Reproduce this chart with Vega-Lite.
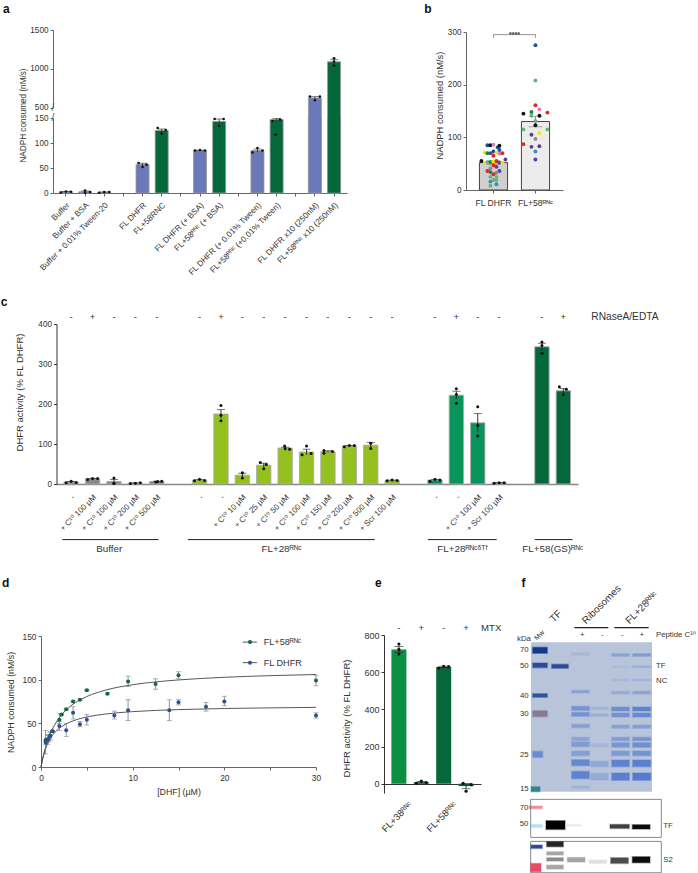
{"$schema":"https://vega.github.io/schema/vega-lite/v6.json","width":698,"height":873,"autosize":"none","padding":0,"background":"white",
"config":{"view":{"stroke":null},"font":"Liberation Sans","axis":{"grid":false,"labelFont":"Liberation Sans, DejaVu Sans","titleFont":"Liberation Sans","labelColor":"#333","titleColor":"#333","labelFontSize":8.2,"titleFontSize":9,"titleFontWeight":"normal","domainColor":"#666","tickColor":"#666","tickSize":3,"labelOverlap":false,"labelBound":false,"labelFlush":false,"labelLimit":220},"text":{"font":"Liberation Sans, DejaVu Sans","color":"#333","fontSize":8}},
"datasets":{
"aBars":[{"name":"Buffer","value":2.5,"lo":1.5,"hi":3.2,"kind":"FL"},{"name":"Buffer + BSA","value":2.4,"lo":1,"hi":4,"kind":"FL"},{"name":"Buffer + 0.01% Tween-20","value":1.5,"lo":1,"hi":2,"kind":"FL"},{"name":"FL DHFR","value":57,"lo":54.5,"hi":59.5,"kind":"FL"},{"name":"FL+58RNC","value":125,"lo":122,"hi":128,"kind":"RNC"},{"name":"FL DHFR (+ BSA)","value":85,"lo":84.6,"hi":85.6,"kind":"FL"},{"name":"FL+58ᴿᴺᶜ (+ BSA)","value":143,"lo":139,"hi":148,"kind":"RNC"},{"name":"FL DHFR (+ 0.01% Tween)","value":85,"lo":82,"hi":88,"kind":"FL"},{"name":"FL+58ᴿᴺᶜ (+0.01% Tween)","value":147,"lo":145,"hi":149,"kind":"RNC"},{"name":"FL DHFR x10 (250nM)","value":626,"lo":610,"hi":642,"kind":"FL"},{"name":"FL+58ᴿᴺᶜ  x10 (250nM)","value":1090,"lo":1065,"hi":1118,"kind":"RNC"}],
"aDots":[{"name":"Buffer","value":1,"j":-1},{"name":"Buffer","value":3,"j":0},{"name":"Buffer","value":2.5,"j":1},{"name":"Buffer + BSA","value":5,"j":0},{"name":"Buffer + BSA","value":0.5,"j":0},{"name":"Buffer + BSA","value":2,"j":1},{"name":"Buffer + 0.01% Tween-20","value":0.5,"j":-1},{"name":"Buffer + 0.01% Tween-20","value":2,"j":0},{"name":"Buffer + 0.01% Tween-20","value":2,"j":1},{"name":"FL DHFR","value":60,"j":-0.8},{"name":"FL DHFR","value":52,"j":0},{"name":"FL DHFR","value":57,"j":0.8},{"name":"FL+58RNC","value":130,"j":-0.8},{"name":"FL+58RNC","value":119,"j":0},{"name":"FL+58RNC","value":126,"j":0.8},{"name":"FL DHFR (+ BSA)","value":85,"j":-1},{"name":"FL DHFR (+ BSA)","value":86,"j":0},{"name":"FL DHFR (+ BSA)","value":85,"j":1},{"name":"FL+58ᴿᴺᶜ (+ BSA)","value":148,"j":-0.9},{"name":"FL+58ᴿᴺᶜ (+ BSA)","value":134,"j":0},{"name":"FL+58ᴿᴺᶜ (+ BSA)","value":148,"j":0.9},{"name":"FL DHFR (+ 0.01% Tween)","value":81,"j":-1},{"name":"FL DHFR (+ 0.01% Tween)","value":90,"j":0},{"name":"FL DHFR (+ 0.01% Tween)","value":85,"j":1},{"name":"FL+58ᴿᴺᶜ (+0.01% Tween)","value":144,"j":-0.8},{"name":"FL+58ᴿᴺᶜ (+0.01% Tween)","value":151,"j":-0.2},{"name":"FL+58ᴿᴺᶜ (+0.01% Tween)","value":147,"j":0.7},{"name":"FL DHFR x10 (250nM)","value":643,"j":-1},{"name":"FL DHFR x10 (250nM)","value":596,"j":0},{"name":"FL DHFR x10 (250nM)","value":643,"j":1},{"name":"FL+58ᴿᴺᶜ  x10 (250nM)","value":1135,"j":0},{"name":"FL+58ᴿᴺᶜ  x10 (250nM)","value":1095,"j":0},{"name":"FL+58ᴿᴺᶜ  x10 (250nM)","value":1043,"j":0}],
"bBars":[{"g":"FL DHFR","value":52,"lo":48.5,"hi":55.5},{"g":"FL+58ᴿᴺᶜ","value":130,"lo":120,"hi":140}],
"bDots":[{"g":"FL+58ᴿᴺᶜ","v":275,"j":0,"batch":"b4"},{"g":"FL+58ᴿᴺᶜ","v":208,"j":0,"batch":"b8"},{"g":"FL+58ᴿᴺᶜ","v":161,"j":0,"batch":"b2"},{"g":"FL+58ᴿᴺᶜ","v":148,"j":-0.33,"batch":"b3"},{"g":"FL+58ᴿᴺᶜ","v":153,"j":0.33,"batch":"b7"},{"g":"FL+58ᴿᴺᶜ","v":145,"j":-1,"batch":"b1"},{"g":"FL+58ᴿᴺᶜ","v":147,"j":1,"batch":"b2"},{"g":"FL+58ᴿᴺᶜ","v":141,"j":-0.33,"batch":"b8"},{"g":"FL+58ᴿᴺᶜ","v":141,"j":0.33,"batch":"b1"},{"g":"FL+58ᴿᴺᶜ","v":131,"j":0,"batch":"b8"},{"g":"FL+58ᴿᴺᶜ","v":123,"j":0,"batch":"b1"},{"g":"FL+58ᴿᴺᶜ","v":115,"j":-1,"batch":"b8"},{"g":"FL+58ᴿᴺᶜ","v":115,"j":1,"batch":"b8"},{"g":"FL+58ᴿᴺᶜ","v":108,"j":0.33,"batch":"b6"},{"g":"FL+58ᴿᴺᶜ","v":105,"j":-0.33,"batch":"b5"},{"g":"FL+58ᴿᴺᶜ","v":97,"j":0,"batch":"b9"},{"g":"FL+58ᴿᴺᶜ","v":87,"j":-1,"batch":"b2"},{"g":"FL+58ᴿᴺᶜ","v":82,"j":-0.33,"batch":"b5"},{"g":"FL+58ᴿᴺᶜ","v":83,"j":0.33,"batch":"b5"},{"g":"FL+58ᴿᴺᶜ","v":73,"j":0,"batch":"b10"},{"g":"FL+58ᴿᴺᶜ","v":58,"j":0,"batch":"b5"},
{"g":"FL DHFR","v":85,"j":-0.5,"batch":"b4"},{"g":"FL DHFR","v":85,"j":-0.25,"batch":"b1"},{"g":"FL DHFR","v":86,"j":0,"batch":"b7"},{"g":"FL DHFR","v":81,"j":0.35,"batch":"b4"},{"g":"FL DHFR","v":84,"j":0.5,"batch":"b1"},{"g":"FL DHFR","v":76,"j":0.5,"batch":"b4"},{"g":"FL DHFR","v":73,"j":0,"batch":"b4"},{"g":"FL DHFR","v":71,"j":-0.72,"batch":"b6"},{"g":"FL DHFR","v":70,"j":-0.5,"batch":"b3"},{"g":"FL DHFR","v":70,"j":-0.25,"batch":"b5"},{"g":"FL DHFR","v":71,"j":0.25,"batch":"b6"},{"g":"FL DHFR","v":69,"j":0.5,"batch":"b7"},{"g":"FL DHFR","v":70,"j":0.75,"batch":"b2"},{"g":"FL DHFR","v":65,"j":0,"batch":"b2"},{"g":"FL DHFR","v":58,"j":1,"batch":"b5"},{"g":"FL DHFR","v":55,"j":-1,"batch":"b1"},{"g":"FL DHFR","v":52,"j":-0.72,"batch":"b6"},{"g":"FL DHFR","v":53,"j":-0.5,"batch":"b8"},{"g":"FL DHFR","v":53,"j":-0.25,"batch":"b3"},{"g":"FL DHFR","v":54,"j":0,"batch":"b6"},{"g":"FL DHFR","v":55,"j":0.25,"batch":"b2"},{"g":"FL DHFR","v":52,"j":0.5,"batch":"b5"},{"g":"FL DHFR","v":52,"j":0.75,"batch":"b6"},{"g":"FL DHFR","v":47,"j":0,"batch":"b2"},{"g":"FL DHFR","v":44,"j":0.25,"batch":"b5"},{"g":"FL DHFR","v":41,"j":-0.25,"batch":"b9"},{"g":"FL DHFR","v":36,"j":-0.5,"batch":"b2"},{"g":"FL DHFR","v":34,"j":-0.25,"batch":"b3"},{"g":"FL DHFR","v":36,"j":0.5,"batch":"b5"},{"g":"FL DHFR","v":33,"j":0.25,"batch":"b9"},{"g":"FL DHFR","v":30,"j":0,"batch":"b2"},{"g":"FL DHFR","v":25,"j":-0.25,"batch":"b8"},{"g":"FL DHFR","v":25,"j":0.25,"batch":"b8"},{"g":"FL DHFR","v":19,"j":0,"batch":"b8"},{"g":"FL DHFR","v":16,"j":-0.25,"batch":"b10"},{"g":"FL DHFR","v":19,"j":0.25,"batch":"b8"},{"g":"FL DHFR","v":11,"j":0.25,"batch":"b10"},{"g":"FL DHFR","v":8,"j":-0.25,"batch":"b8"}],
"bBracket":[{"g":"FL DHFR","v":289,"i":1},{"g":"FL DHFR","v":295,"i":2},{"g":"FL+58ᴿᴺᶜ","v":295,"i":3},{"g":"FL+58ᴿᴺᶜ","v":289,"i":4}],
"cBars":[{"s":"s00","value":5,"lo":3,"hi":6.5,"set":"buffer"},{"s":"s01","value":13,"lo":12,"hi":14,"set":"buffer"},{"s":"s02","value":6,"lo":1,"hi":11,"set":"buffer"},{"s":"s03","value":2,"lo":1.2,"hi":2.8,"set":"buffer"},{"s":"s04","value":6,"lo":5.2,"hi":6.8,"set":"buffer"},{"s":"s06","value":10,"lo":8.5,"hi":11,"set":"fl28"},{"s":"s07","value":175,"lo":164,"hi":186,"set":"fl28"},{"s":"s08","value":22,"lo":17,"hi":27,"set":"fl28"},{"s":"s09","value":47,"lo":42,"hi":52,"set":"fl28"},{"s":"s10","value":90,"lo":88,"hi":92,"set":"fl28"},{"s":"s11","value":80,"lo":73,"hi":87,"set":"fl28"},{"s":"s12","value":81,"lo":78.5,"hi":83,"set":"fl28"},{"s":"s13","value":95,"lo":94,"hi":96,"set":"fl28"},{"s":"s14","value":97,"lo":90,"hi":104,"set":"fl28"},{"s":"s15","value":9,"lo":8.3,"hi":9.7,"set":"fl28"},{"s":"s17","value":10,"lo":8,"hi":11.5,"set":"dtf"},{"s":"s18","value":222,"lo":212,"hi":232,"set":"dtfb"},{"s":"s19","value":153,"lo":131,"hi":176,"set":"dtfb"},{"s":"s20","value":3,"lo":2.5,"hi":3.5,"set":"dtf"},{"s":"s22","value":343,"lo":334,"hi":352,"set":"gs"},{"s":"s23","value":233,"lo":227,"hi":239,"set":"gs"}],
"cDots":[{"s":"s00","v":3,"j":-1},{"s":"s00","v":7,"j":0},{"s":"s00","v":4,"j":1},{"s":"s01","v":11,"j":-1},{"s":"s01","v":14,"j":0},{"s":"s01","v":14,"j":1},{"s":"s02","v":15,"j":0},{"s":"s02","v":1,"j":0},{"s":"s02","v":2,"j":0},{"s":"s03","v":1,"j":-1},{"s":"s03","v":2,"j":0},{"s":"s03","v":3,"j":1},{"s":"s04","v":5,"j":-0.2},{"s":"s04","v":6,"j":0.2},{"s":"s04","v":7,"j":1},{"s":"s06","v":8,"j":-1},{"s":"s06","v":12,"j":0},{"s":"s06","v":9,"j":1},{"s":"s07","v":196,"j":0},{"s":"s07","v":172,"j":0},{"s":"s07","v":158,"j":0},{"s":"s08","v":28,"j":0},{"s":"s08","v":15,"j":0},{"s":"s09","v":54,"j":-0.7},{"s":"s09","v":49,"j":0.5},{"s":"s09","v":38,"j":0},{"s":"s10","v":95,"j":-0.1},{"s":"s10","v":88,"j":0},{"s":"s10","v":87,"j":0.9},{"s":"s11","v":95,"j":0},{"s":"s11","v":73,"j":-0.9},{"s":"s11","v":76,"j":0.9},{"s":"s12","v":84,"j":-0.8},{"s":"s12","v":77,"j":-0.8},{"s":"s12","v":81,"j":0.9},{"s":"s13","v":93,"j":-1},{"s":"s13","v":96,"j":0},{"s":"s13","v":96,"j":1},{"s":"s14","v":102,"j":0},{"s":"s14","v":89,"j":0},{"s":"s15","v":8,"j":-1},{"s":"s15","v":10,"j":0},{"s":"s15","v":9,"j":1},{"s":"s17","v":7,"j":-1},{"s":"s17","v":12,"j":0},{"s":"s17","v":10,"j":1},{"s":"s18","v":238,"j":0},{"s":"s18","v":224,"j":0},{"s":"s18","v":202,"j":0},{"s":"s19","v":193,"j":0},{"s":"s19","v":146,"j":0},{"s":"s19","v":120,"j":0},{"s":"s20","v":2,"j":-1},{"s":"s20","v":3,"j":0},{"s":"s20","v":3,"j":1},{"s":"s22","v":355,"j":0},{"s":"s22","v":346,"j":0},{"s":"s22","v":327,"j":0},{"s":"s23","v":243,"j":-0.8},{"s":"s23","v":237,"j":0.6},{"s":"s23","v":223,"j":0}],
"cSigns":[{"s":"s00","sign":"-"},{"s":"s01","sign":"+"},{"s":"s02","sign":"-"},{"s":"s03","sign":"-"},{"s":"s04","sign":"-"},{"s":"s06","sign":"-"},{"s":"s07","sign":"+"},{"s":"s08","sign":"-"},{"s":"s09","sign":"-"},{"s":"s10","sign":"-"},{"s":"s11","sign":"-"},{"s":"s12","sign":"-"},{"s":"s13","sign":"-"},{"s":"s14","sign":"-"},{"s":"s15","sign":"-"},{"s":"s17","sign":"-"},{"s":"s18","sign":"+"},{"s":"s19","sign":"-"},{"s":"s20","sign":"-"},{"s":"s22","sign":"-"},{"s":"s23","sign":"+"}],
"cGroups":[{"g":"Buffer","from":-0.41,"to":4.09,"mid":1.785},{"g":"FL+28ᴿᴺᶜ","from":5.46,"to":14.2,"mid":9.84},{"g":"FL+28ᴿᴺᶜᵟᵀᶠ","from":16.68,"to":19.9,"mid":18.3},{"g":"FL+58(GS)ᴿᴺᶜ","from":21.68,"to":23.44,"mid":22.52}],
"dPts":[{"sr":"FL+58","x":0.5,"y":31,"lo":15,"hi":42},{"sr":"FL+58","x":0.75,"y":32,"lo":28,"hi":37},{"sr":"FL+58","x":1,"y":36,"lo":32,"hi":40},{"sr":"FL+58","x":1.25,"y":41,"lo":40,"hi":42},{"sr":"FL+58","x":2,"y":54,"lo":50,"hi":61},{"sr":"FL+58","x":2.25,"y":60,"lo":59,"hi":61},{"sr":"FL+58","x":2.75,"y":66,"lo":65,"hi":67},{"sr":"FL+58","x":3.5,"y":75,"lo":74,"hi":76},{"sr":"FL+58","x":4.25,"y":77,"lo":76,"hi":78},{"sr":"FL+58","x":5,"y":88,"lo":87,"hi":89},{"sr":"FL+58","x":7.25,"y":84,"lo":83,"hi":85},{"sr":"FL+58","x":9.5,"y":98,"lo":92,"hi":104},{"sr":"FL+58","x":12.5,"y":95,"lo":89,"hi":101},{"sr":"FL+58","x":15,"y":105,"lo":101,"hi":109},{"sr":"FL+58","x":30,"y":99,"lo":93,"hi":105},
{"sr":"FL DHFR","x":0.5,"y":28,"lo":26,"hi":30},{"sr":"FL DHFR","x":0.75,"y":31,"lo":26,"hi":36},{"sr":"FL DHFR","x":1,"y":35,"lo":30,"hi":40},{"sr":"FL DHFR","x":1.25,"y":41,"lo":40,"hi":42},{"sr":"FL DHFR","x":2,"y":47,"lo":42,"hi":52},{"sr":"FL DHFR","x":2.75,"y":42,"lo":35,"hi":50},{"sr":"FL DHFR","x":3.5,"y":62,"lo":55,"hi":69},{"sr":"FL DHFR","x":4.25,"y":49,"lo":46,"hi":52},{"sr":"FL DHFR","x":5,"y":54,"lo":48,"hi":60},{"sr":"FL DHFR","x":8,"y":59,"lo":55,"hi":64},{"sr":"FL DHFR","x":9.5,"y":65,"lo":53,"hi":77},{"sr":"FL DHFR","x":14,"y":65,"lo":53,"hi":77},{"sr":"FL DHFR","x":15,"y":74,"lo":71,"hi":77},{"sr":"FL DHFR","x":18,"y":69,"lo":64,"hi":74},{"sr":"FL DHFR","x":20,"y":75,"lo":70,"hi":81},{"sr":"FL DHFR","x":30,"y":59,"lo":56,"hi":62}],
"dFit":[{"sr":"FL+58","x":0,"y":0},{"sr":"FL+58","x":0.25,"y":12.6},{"sr":"FL+58","x":0.5,"y":22.6},{"sr":"FL+58","x":0.75,"y":30.8},{"sr":"FL+58","x":1,"y":37.7},{"sr":"FL+58","x":1.5,"y":48.4},{"sr":"FL+58","x":2,"y":56.5},{"sr":"FL+58","x":3,"y":67.8},{"sr":"FL+58","x":4,"y":75.3},{"sr":"FL+58","x":5,"y":80.7},{"sr":"FL+58","x":7,"y":87.9},{"sr":"FL+58","x":10,"y":94.2},{"sr":"FL+58","x":12.5,"y":97.4},{"sr":"FL+58","x":15,"y":99.7},{"sr":"FL+58","x":20,"y":102.7},{"sr":"FL+58","x":25,"y":104.6},{"sr":"FL+58","x":30,"y":105.9},{"sr":"FL DHFR","x":0,"y":0},{"sr":"FL DHFR","x":0.25,"y":12.2},{"sr":"FL DHFR","x":0.5,"y":20.9},{"sr":"FL DHFR","x":0.75,"y":27.3},{"sr":"FL DHFR","x":1,"y":32.3},{"sr":"FL DHFR","x":1.5,"y":39.4},{"sr":"FL DHFR","x":2,"y":44.4},{"sr":"FL DHFR","x":3,"y":50.7},{"sr":"FL DHFR","x":4,"y":54.6},{"sr":"FL DHFR","x":5,"y":57.3},{"sr":"FL DHFR","x":7,"y":60.6},{"sr":"FL DHFR","x":10,"y":63.4},{"sr":"FL DHFR","x":12.5,"y":64.8},{"sr":"FL DHFR","x":15,"y":65.7},{"sr":"FL DHFR","x":20,"y":67},{"sr":"FL DHFR","x":25,"y":67.7},{"sr":"FL DHFR","x":30,"y":68.3}],
"dKey":[{"sr":"FL+58","name":"FL+58ᴿᴺᶜ","y":143,"a":22,"b":23.55,"m":22.8,"t":24.3},{"sr":"FL DHFR","name":"FL DHFR","y":119.5,"a":22,"b":23.55,"m":22.8,"t":24.3}],
"eBars":[{"s":"e0","value":722,"lo":707,"hi":738,"set":"a"},{"s":"e1","value":8,"lo":4,"hi":12,"set":"b"},{"s":"e2","value":628,"lo":624,"hi":632,"set":"b"},{"s":"e3","value":-13,"lo":-27,"hi":0,"set":"b"}],
"eDots":[{"s":"e0","v":751,"j":0},{"s":"e0","v":723,"j":0},{"s":"e0","v":698,"j":0},{"s":"e1","v":2,"j":-1},{"s":"e1","v":14,"j":0},{"s":"e1","v":6,"j":1},{"s":"e2","v":622,"j":-1},{"s":"e2","v":632,"j":0},{"s":"e2","v":630,"j":1},{"s":"e3","v":2,"j":-0.6},{"s":"e3","v":-5,"j":1},{"s":"e3","v":-40,"j":0}],
"eSigns":[{"s":"e0","sign":"-"},{"s":"e1","sign":"+"},{"s":"e2","sign":"-"},{"s":"e3","sign":"+"}],
"gelBack":[{"x0":573,"x1":936,"t":157,"b":605}],
"blots":[{"x0":572,"x1":964,"t":628,"b":742},{"x0":572,"x1":964,"t":754,"b":848}],
"bands":[{"x0":695,"x1":748,"t":188,"b":196,"st":"coom","a":0.15},{"x0":695,"x1":748,"t":301,"b":309,"st":"coom","a":0.4},{"x0":695,"x1":748,"t":349,"b":361,"st":"coom","a":0.6},{"x0":695,"x1":748,"t":367,"b":379,"st":"coom","a":0.6},{"x0":695,"x1":748,"t":403,"b":413,"st":"coom","a":0.45},{"x0":695,"x1":748,"t":442,"b":452,"st":"coom","a":0.4},{"x0":695,"x1":748,"t":456,"b":470,"st":"coom","a":0.5},{"x0":695,"x1":748,"t":483,"b":497,"st":"coom","a":0.45},{"x0":695,"x1":748,"t":509,"b":527,"st":"coom","a":0.75},{"x0":695,"x1":748,"t":544,"b":566,"st":"coom","a":0.8},{"x0":695,"x1":748,"t":588,"b":596,"st":"coom","a":0.2},
{"x0":752,"x1":805,"t":351,"b":359,"st":"coom","a":0.2},{"x0":752,"x1":805,"t":371,"b":379,"st":"coom","a":0.25},{"x0":752,"x1":805,"t":460,"b":470,"st":"coom","a":0.15},{"x0":752,"x1":805,"t":514,"b":530,"st":"coom","a":0.35},{"x0":752,"x1":805,"t":550,"b":570,"st":"coom","a":0.3},
{"x0":815,"x1":868,"t":191,"b":199,"st":"coom","a":0.4},{"x0":815,"x1":868,"t":228,"b":232,"st":"coom","a":0.1},{"x0":815,"x1":868,"t":267,"b":273,"st":"coom","a":0.12},{"x0":815,"x1":868,"t":304,"b":312,"st":"coom","a":0.3},{"x0":815,"x1":868,"t":351,"b":363,"st":"coom","a":0.65},{"x0":815,"x1":868,"t":369,"b":381,"st":"coom","a":0.6},{"x0":815,"x1":868,"t":405,"b":415,"st":"coom","a":0.4},{"x0":815,"x1":868,"t":442,"b":452,"st":"coom","a":0.5},{"x0":815,"x1":868,"t":458,"b":472,"st":"coom","a":0.55},{"x0":815,"x1":868,"t":483,"b":497,"st":"coom","a":0.5},{"x0":815,"x1":868,"t":510,"b":530,"st":"coom","a":0.8},{"x0":815,"x1":868,"t":549,"b":571,"st":"coom","a":0.85},
{"x0":878,"x1":932,"t":191,"b":199,"st":"coom","a":0.5},{"x0":878,"x1":932,"t":228,"b":232,"st":"coom","a":0.3},{"x0":878,"x1":932,"t":267,"b":273,"st":"coom","a":0.2},{"x0":878,"x1":932,"t":304,"b":312,"st":"coom","a":0.4},{"x0":878,"x1":932,"t":351,"b":363,"st":"coom","a":0.8},{"x0":878,"x1":932,"t":369,"b":381,"st":"coom","a":0.7},{"x0":878,"x1":932,"t":405,"b":415,"st":"coom","a":0.45},{"x0":878,"x1":932,"t":442,"b":452,"st":"coom","a":0.6},{"x0":878,"x1":932,"t":458,"b":472,"st":"coom","a":0.65},{"x0":878,"x1":932,"t":483,"b":497,"st":"coom","a":0.6},{"x0":878,"x1":932,"t":510,"b":530,"st":"coom","a":0.85},{"x0":878,"x1":932,"t":549,"b":571,"st":"coom","a":0.9},
{"x0":578,"x1":622,"t":172,"b":190,"st":"navy","a":1},{"x0":578,"x1":622,"t":219,"b":233,"st":"navy","a":0.85},{"x0":578,"x1":622,"t":311,"b":322,"st":"navy","a":0.8},{"x0":578,"x1":622,"t":362,"b":380,"st":"brown","a":0.6},{"x0":578,"x1":608,"t":484,"b":502,"st":"coom","a":0.7},{"x0":573,"x1":600,"t":590,"b":605,"st":"teal","a":0.8},{"x0":635,"x1":685,"t":223,"b":235,"st":"navy","a":0.85},
{"x0":618,"x1":675,"t":692,"b":718,"st":"ecl","a":1},{"x0":810,"x1":868,"t":703,"b":715,"st":"ecl","a":0.75},{"x0":877,"x1":930,"t":704,"b":717,"st":"ecl","a":0.95},{"x0":680,"x1":725,"t":703,"b":708,"st":"ecl","a":0.08},{"x0":567,"x1":607,"t":648,"b":656,"st":"pink","a":0.6},{"x0":572,"x1":607,"t":703,"b":712,"st":"cyan","a":0.5},
{"x0":620,"x1":670,"t":755,"b":770,"st":"ecl","a":0.85},{"x0":620,"x1":670,"t":785,"b":795,"st":"ecl","a":0.35},{"x0":620,"x1":670,"t":803,"b":813,"st":"ecl","a":0.45},{"x0":620,"x1":670,"t":825,"b":837,"st":"ecl","a":0.35},{"x0":682,"x1":735,"t":802,"b":816,"st":"ecl","a":0.35},{"x0":748,"x1":800,"t":810,"b":820,"st":"ecl","a":0.12},{"x0":812,"x1":865,"t":803,"b":820,"st":"ecl","a":0.7},{"x0":877,"x1":930,"t":800,"b":818,"st":"ecl","a":0.95},{"x0":573,"x1":607,"t":765,"b":775,"st":"navy","a":0.9},{"x0":572,"x1":603,"t":820,"b":845,"st":"pink","a":0.95}],
"fCenter":[{"t":"70","x":553,"y":181},{"t":"50","x":553,"y":229},{"t":"40","x":553,"y":318},{"t":"30","x":553,"y":371},{"t":"25","x":553,"y":494},{"t":"15","x":553,"y":596},{"t":"kDa","x":552,"y":148},{"t":"+","x":727,"y":135},{"t":"-","x":787,"y":135},{"t":"-","x":847,"y":135},{"t":"+","x":905,"y":135},{"t":"70","x":552,"y":653},{"t":"50","x":552,"y":703}],
"fLeft":[{"t":"Peptide C¹⁰","x":948,"y":135},{"t":"TF","x":948,"y":228},{"t":"NC","x":948,"y":274},{"t":"TF","x":970,"y":708},{"t":"S2","x":970,"y":810}],
"fRot":[{"t":"TF","x":635,"y":92},{"t":"Ribosomes","x":732,"y":97},{"t":"FL+28ᴿᴺᶜ","x":862,"y":97}],
"fMw":[{"t":"Mw","x":587,"y":148}],
"fRules":[{"a":703,"b":805,"y":113},{"a":823,"b":926,"y":113}],
"panels":[{"t":"a","fx":0.009,"fy":0.010},{"t":"b","fx":0.613,"fy":0.010},{"t":"c","fx":0.006,"fy":0.346},{"t":"d","fx":0.008,"fy":0.668},{"t":"e","fx":0.542,"fy":0.668},{"t":"f","fx":0.75,"fy":0.668}]
},
"resolve":{"scale":{"x":"independent","y":"independent","xOffset":"independent","color":"independent","opacity":"independent"}},
"layer":[
{"data":{"name":"aBars"},"resolve":{"axis":{"y":"independent"},"scale":{"xOffset":"independent"}},"encoding":{"x":{"field":"name","type":"nominal","scale":{"type":"band","domain":["Buffer","Buffer + BSA","Buffer + 0.01% Tween-20","_3","FL DHFR","FL+58RNC","_6","FL DHFR (+ BSA)","FL+58ᴿᴺᶜ (+ BSA)","_9","FL DHFR (+ 0.01% Tween)","FL+58ᴿᴺᶜ (+0.01% Tween)","_12","FL DHFR x10 (250nM)","FL+58ᴿᴺᶜ  x10 (250nM)"],"range":[53,347],"paddingInner":0.32,"paddingOuter":0.335},"axis":{"orient":"bottom","offset":-680,"title":null,"labelAngle":-45,"labelPadding":5,"labelFontSize":8.2,"labelExpr":"indexof(datum.value,'_')==0 ? '' : datum.label"}}},
"layer":[
{"mark":{"type":"bar","stroke":"#999","strokeWidth":0.8},"encoding":{"y":{"field":"value","type":"quantitative","scale":{"domain":[0,150],"range":[193,118],"clamp":true,"nice":false},"axis":{"orient":"left","offset":-53,"title":"NADPH consumed (nM/s)","titleFontSize":8.2,"titleX":-26,"titleY":115,"values":[0,50,100,150]}},"color":{"field":"kind","type":"nominal","legend":null,"scale":{"domain":["FL","RNC"],"range":["#6c79b8","#05683a"]}}}},
{"transform":[{"filter":"datum.value<=150"}],"mark":{"type":"rule","color":"#222","strokeWidth":0.8},"encoding":{"y":{"field":"lo","type":"quantitative","axis":null},"y2":{"field":"hi"}}},
{"transform":[{"filter":"datum.value<=150"}],"mark":{"type":"tick","color":"#222","size":8,"thickness":0.8},"encoding":{"y":{"field":"hi","type":"quantitative","axis":null}}},
{"data":{"name":"aDots"},"transform":[{"filter":"datum.value<=150"}],"mark":{"type":"point","filled":true,"color":"#111","size":7,"opacity":1},"encoding":{"y":{"field":"value","type":"quantitative","axis":null},"xOffset":{"field":"j","type":"quantitative","scale":{"domain":[-1,1],"range":[1.5,11.5]}}}},
{"data":{"values":[{"name":"Buffer"}]},"mark":{"type":"text","text":"/","dx":-13,"fontSize":10,"color":"#555"},"encoding":{"y":{"datum":150,"type":"quantitative","axis":null}}}
]},
{"data":{"name":"aBars"},"transform":[{"filter":"datum.value>150"}],"resolve":{"axis":{"y":"independent"},"scale":{"xOffset":"independent"}},"encoding":{"x":{"field":"name","type":"nominal","axis":null,"scale":{"type":"band","domain":["Buffer","Buffer + BSA","Buffer + 0.01% Tween-20","_3","FL DHFR","FL+58RNC","_6","FL DHFR (+ BSA)","FL+58ᴿᴺᶜ (+ BSA)","_9","FL DHFR (+ 0.01% Tween)","FL+58ᴿᴺᶜ (+0.01% Tween)","_12","FL DHFR x10 (250nM)","FL+58ᴿᴺᶜ  x10 (250nM)"],"range":[53,347],"paddingInner":0.32,"paddingOuter":0.335}}},
"layer":[
{"mark":{"type":"bar","stroke":"#999","strokeWidth":0.8},"encoding":{"y":{"field":"value","type":"quantitative","scale":{"domain":[500,1500],"range":[107.7,30],"nice":false,"zero":false},"axis":{"orient":"left","offset":-53,"title":null,"values":[500,1000,1500],"format":"d"}},"y2":{"datum":-600},"color":{"field":"kind","type":"nominal","legend":null,"scale":{"domain":["FL","RNC"],"range":["#6c79b8","#05683a"]}}}},
{"mark":{"type":"rule","color":"#222","strokeWidth":0.8},"encoding":{"y":{"field":"lo","type":"quantitative","axis":null},"y2":{"field":"hi"}}},
{"mark":{"type":"tick","color":"#222","size":8,"thickness":0.8},"encoding":{"y":{"field":"hi","type":"quantitative","axis":null}}},
{"data":{"name":"aDots"},"transform":[{"filter":"datum.value>150"}],"mark":{"type":"point","filled":true,"color":"#111","size":7,"opacity":1},"encoding":{"y":{"field":"value","type":"quantitative","axis":null},"xOffset":{"field":"j","type":"quantitative","scale":{"domain":[-1,1],"range":[1.5,11.5]}}}},
{"data":{"values":[{"name":"Buffer"}]},"mark":{"type":"text","text":"/","dx":-13,"fontSize":10,"color":"#555"},"encoding":{"y":{"datum":500,"type":"quantitative","axis":null}}}
]},
{"data":{"name":"bBars"},"resolve":{"axis":{"y":"independent"},"scale":{"color":"independent","xOffset":"independent"}},"encoding":{"x":{"field":"g","type":"nominal","scale":{"type":"band","domain":["FL DHFR","FL+58ᴿᴺᶜ"],"range":[466,563],"paddingInner":0.33,"paddingOuter":0.32},"axis":{"orient":"bottom","offset":-683,"title":null,"labelAngle":0,"labelPadding":5,"labelFontSize":8.6}}},
"layer":[
{"mark":{"type":"bar","stroke":"#444","strokeWidth":1},"encoding":{"y":{"field":"value","type":"quantitative","scale":{"domain":[0,300],"range":[190,32],"nice":false},"axis":{"orient":"left","offset":-466,"title":"NADPH consumed (nM/s)","titleFontSize":9.4,"titleX":-22,"titleY":105,"values":[0,100,200,300],"labelFontSize":8.2}},"color":{"field":"g","type":"nominal","legend":null,"scale":{"domain":["FL DHFR","FL+58ᴿᴺᶜ"],"range":["#cfcfcf","#ececec"]}}}},
{"mark":{"type":"rule","color":"#888","strokeWidth":1},"encoding":{"y":{"field":"lo","type":"quantitative","axis":null},"y2":{"field":"hi"}}},
{"mark":{"type":"tick","color":"#888","size":14,"thickness":1},"encoding":{"y":{"field":"lo","type":"quantitative","axis":null}}},
{"mark":{"type":"tick","color":"#888","size":14,"thickness":1},"encoding":{"y":{"field":"hi","type":"quantitative","axis":null}}},
{"data":{"name":"bDots"},"mark":{"type":"point","filled":true,"size":15,"opacity":1},"encoding":{"y":{"field":"v","type":"quantitative","axis":null},"xOffset":{"field":"j","type":"quantitative","scale":{"domain":[-1,1],"range":[2,26]}},"color":{"field":"batch","type":"nominal","legend":null,"scale":{"domain":["b1","b2","b3","b4","b5","b6","b7","b8","b9","b10"],"range":["#111111","#e0262a","#0a8a3c","#12558f","#5b3f8f","#f2e400","#dd80b5","#66b47c","#8a8a8a","#3d88c4"]}}}},
{"data":{"name":"bBracket"},"mark":{"type":"line","color":"#666","strokeWidth":0.7},"encoding":{"y":{"field":"v","type":"quantitative","axis":null},"order":{"field":"i"}}},
{"data":{"values":[{"g":"FL DHFR","v":295}]},"mark":{"type":"text","text":"****","dx":21,"dy":0,"fontSize":7,"fontWeight":"bold","color":"#333"},"encoding":{"y":{"field":"v","type":"quantitative","axis":null}}}
]},
{"data":{"name":"cBars"},"resolve":{"axis":{"y":"independent"},"scale":{"xOffset":"independent"}},"encoding":{"x":{"field":"s","type":"nominal","scale":{"type":"band","domain":["s00","s01","s02","s03","s04","s05","s06","s07","s08","s09","s10","s11","s12","s13","s14","s15","s16","s17","s18","s19","s20","s21","s22","s23"],"range":[56.5,578],"paddingInner":0.33,"paddingOuter":0.35},"axis":{"orient":"bottom","offset":-389,"title":null,"labelAngle":-45,"labelPadding":9,"labelFontSize":8,"ticks":false,"domainColor":"#888","domainWidth":1.4,"labelExpr":"{s00:'-',s01:'+ C¹⁰ 100 µM',s02:'+ C¹⁰ 100 µM',s03:'+ C¹⁰ 200 µM',s04:'+ C¹⁰ 500 µM',s06:'-',s07:'-',s08:'+ C¹⁰ 10 µM',s09:'+ C¹⁰ 25 µM',s10:'+ C¹⁰ 50 µM',s11:'+ C¹⁰ 100 µM',s12:'+ C¹⁰ 150 µM',s13:'+ C¹⁰ 200 µM',s14:'+ C¹⁰ 500 µM',s15:'+ Scr 100 µM',s17:'-',s18:'-',s19:'+ C¹⁰ 100 µM',s20:'+ Scr 100 µM'}[datum.value] || ''"}}},
"layer":[
{"mark":{"type":"bar","stroke":"#aaa","strokeWidth":0.9},"encoding":{"y":{"field":"value","type":"quantitative","scale":{"domain":[0,400],"range":[484,324],"nice":false},"axis":{"orient":"left","offset":-56.5,"title":"DHFR activity (% FL DHFR)","titleFontSize":9.5,"titleX":-32,"titleY":392,"values":[0,100,200,300,400],"domainColor":"#333","tickColor":"#333"}},"color":{"field":"set","type":"nominal","legend":null,"scale":{"domain":["buffer","fl28","dtf","dtfb","gs"],"range":["#868686","#94c11f","#08905a","#08945a","#05683a"]}}}},
{"mark":{"type":"rule","color":"#222","strokeWidth":0.9},"encoding":{"y":{"field":"lo","type":"quantitative","axis":null},"y2":{"field":"hi"}}},
{"mark":{"type":"tick","color":"#222","size":8,"thickness":0.9},"encoding":{"y":{"field":"hi","type":"quantitative","axis":null}}},
{"data":{"name":"cDots"},"mark":{"type":"point","filled":true,"color":"#111","size":9,"opacity":1},"encoding":{"y":{"field":"v","type":"quantitative","axis":null},"xOffset":{"field":"j","type":"quantitative","scale":{"domain":[-1,1],"range":[2.17,12.17]}}}},
{"data":{"name":"cSigns"},"mark":{"type":"text","dy":-7,"fontSize":9.5},"encoding":{"y":{"datum":400,"type":"quantitative","axis":null},"text":{"field":"sign"}}},
{"data":{"values":[{"s":"s23","t":"RNaseA/EDTA"}]},"mark":{"type":"text","dy":-7,"dx":28,"align":"left","fontSize":10.2},"encoding":{"y":{"datum":400,"type":"quantitative","axis":null},"text":{"field":"t"}}}
]},
{"data":{"name":"cGroups"},"layer":[
{"mark":{"type":"rule","color":"#222","strokeWidth":1},"encoding":{"x":{"field":"from","type":"quantitative","axis":null,"scale":{"domain":[-0.682,23.7],"range":[56.5,578],"nice":false,"zero":false}},"x2":{"field":"to"},"y":{"datum":-139,"type":"quantitative","axis":null,"scale":{"domain":[0,400],"range":[484,324],"nice":false}}}},
{"mark":{"type":"text","fontSize":9.8},"encoding":{"x":{"field":"mid","type":"quantitative","axis":null},"y":{"datum":-163,"type":"quantitative","axis":null},"text":{"field":"g"}}}
]},
{"resolve":{"axis":{"x":"independent","y":"independent"}},"layer":[
{"data":{"name":"dFit"},"mark":{"type":"line","interpolate":"monotone","strokeWidth":0.9,"color":"#444"},"encoding":{"x":{"field":"x","type":"quantitative","scale":{"domain":[0,30],"range":[41,316],"nice":false,"zero":false},"axis":{"orient":"bottom","offset":-106,"title":"[DHF] (µM)","titleFontSize":8.8,"titlePadding":6,"values":[0,5,10,15,20,25,30],"labelPadding":3,"labelFontSize":8.4,"labelExpr":"datum.value%10==0 ? datum.label : ''"}},"y":{"field":"y","type":"quantitative","scale":{"domain":[0,150],"range":[767,636],"nice":false},"axis":{"orient":"left","offset":-41,"title":"NADPH consumed (nM/s)","titleX":-26,"titleY":702,"titleFontSize":8.8,"values":[0,50,100,150],"labelFontSize":8.4}},"detail":{"field":"sr"}}},
{"data":{"name":"dPts"},"mark":{"type":"rule","color":"#777","strokeWidth":0.8},"encoding":{"x":{"field":"x","type":"quantitative","axis":null},"y":{"field":"lo","type":"quantitative","axis":null},"y2":{"field":"hi"}}},
{"data":{"name":"dPts"},"mark":{"type":"tick","orient":"horizontal","color":"#777","size":5,"thickness":0.8},"encoding":{"x":{"field":"x","type":"quantitative","axis":null},"y":{"field":"lo","type":"quantitative","axis":null}}},
{"data":{"name":"dPts"},"mark":{"type":"tick","orient":"horizontal","color":"#777","size":5,"thickness":0.8},"encoding":{"x":{"field":"x","type":"quantitative","axis":null},"y":{"field":"hi","type":"quantitative","axis":null}}},
{"data":{"name":"dPts"},"mark":{"type":"point","filled":true,"size":16,"opacity":1},"encoding":{"x":{"field":"x","type":"quantitative","axis":null},"y":{"field":"y","type":"quantitative","axis":null},"color":{"field":"sr","type":"nominal","legend":null,"scale":{"domain":["FL+58","FL DHFR"],"range":["#0a6b3c","#2b4d9b"]}}}},
{"data":{"name":"dKey"},"mark":{"type":"rule","color":"#444","strokeWidth":0.9},"encoding":{"x":{"field":"a","type":"quantitative","axis":null},"x2":{"field":"b"},"y":{"field":"y","type":"quantitative","axis":null}}},
{"data":{"name":"dKey"},"mark":{"type":"point","filled":true,"size":16,"opacity":1},"encoding":{"x":{"field":"m","type":"quantitative","axis":null},"y":{"field":"y","type":"quantitative","axis":null},"color":{"field":"sr","type":"nominal","legend":null}}},
{"data":{"name":"dKey"},"mark":{"type":"text","align":"left","fontSize":9.1},"encoding":{"x":{"field":"t","type":"quantitative","axis":null},"y":{"field":"y","type":"quantitative","axis":null},"text":{"field":"name"}}}
]},
{"data":{"name":"eBars"},"resolve":{"axis":{"y":"independent"},"scale":{"xOffset":"independent"}},"encoding":{"x":{"field":"s","type":"nominal","scale":{"type":"band","domain":["e0","e1","e2","e3"],"range":[384,481],"paddingInner":0.33,"paddingOuter":0.33},"axis":{"orient":"bottom","offset":-89,"title":null,"ticks":false,"labelAngle":-45,"labelPadding":16,"labelOffset":9,"labelFontSize":9.4,"domainColor":"#333","labelExpr":"{e0:'FL+38ᴿᴺᶜ',e2:'FL+58ᴿᴺᶜ'}[datum.value] || ''"}}},
"layer":[
{"mark":{"type":"bar"},"encoding":{"y":{"field":"value","type":"quantitative","scale":{"domain":[-50,800],"range":[793,635],"nice":false,"zero":false},"axis":{"orient":"left","offset":-384,"title":"DHFR activity (% FL DHFR)","titleFontSize":9.5,"titleX":-33,"titleY":718,"values":[0,200,400,600,800],"labelFontSize":9,"domainColor":"#333","tickColor":"#333"}},"y2":{"datum":0},"color":{"field":"set","type":"nominal","legend":null,"scale":{"domain":["a","b"],"range":["#0a9040","#05683a"]}}}},
{"mark":{"type":"rule","color":"#222","strokeWidth":0.9},"encoding":{"y":{"field":"lo","type":"quantitative","axis":null},"y2":{"field":"hi"}}},
{"mark":{"type":"tick","color":"#222","size":9,"thickness":0.9},"encoding":{"y":{"field":"lo","type":"quantitative","axis":null}}},
{"mark":{"type":"tick","color":"#222","size":9,"thickness":0.9},"encoding":{"y":{"field":"hi","type":"quantitative","axis":null}}},
{"data":{"name":"eDots"},"mark":{"type":"point","filled":true,"color":"#111","size":10,"opacity":1},"encoding":{"y":{"field":"v","type":"quantitative","axis":null},"xOffset":{"field":"j","type":"quantitative","scale":{"domain":[-1,1],"range":[2.5,12.5]}}}},
{"data":{"name":"eSigns"},"mark":{"type":"text","dy":-7,"fontSize":9.5},"encoding":{"y":{"datum":800,"type":"quantitative","axis":null},"text":{"field":"sign"}}},
{"data":{"values":[{"s":"e3","t":"MTX"}]},"mark":{"type":"text","dy":-7,"dx":15,"align":"left","fontSize":9.6},"encoding":{"y":{"datum":800,"type":"quantitative","axis":null},"text":{"field":"t"}}}
]},
{"layer":[
{"data":{"name":"gelBack"},"mark":{"type":"rect","color":"#b7c4da"},"encoding":{"x":{"field":"x0","type":"quantitative","axis":null,"scale":{"domain":[573,936],"range":[531,652],"nice":false,"zero":false}},"x2":{"field":"x1"},"y":{"field":"t","type":"quantitative","axis":null,"scale":{"domain":[157,605],"range":[642.3,791.7],"nice":false,"zero":false}},"y2":{"field":"b"}}},
{"data":{"name":"blots"},"mark":{"type":"rect","color":"white","stroke":"#888","strokeWidth":1},"encoding":{"x":{"field":"x0","type":"quantitative","axis":null},"x2":{"field":"x1"},"y":{"field":"t","type":"quantitative","axis":null},"y2":{"field":"b"}}},
{"data":{"name":"bands"},"mark":{"type":"rect","strokeWidth":1.5,"strokeOpacity":0.35},"encoding":{"x":{"field":"x0","type":"quantitative","axis":null},"x2":{"field":"x1"},"y":{"field":"t","type":"quantitative","axis":null},"y2":{"field":"b"},"color":{"field":"st","type":"nominal","legend":null,"scale":{"domain":["coom","navy","brown","teal","ecl","pink","cyan"],"range":["#4a74cc","#14378f","#6d4a62","#0e7a70","#000000","#e8405f","#74c2ec"]}},"stroke":{"field":"st","type":"nominal","legend":null,"scale":{"domain":["coom","navy","brown","teal","ecl","pink","cyan"],"range":["#4a74cc","#14378f","#6d4a62","#0e7a70","#000000","#e8405f","#74c2ec"]}},"opacity":{"field":"a","type":"quantitative","legend":null,"scale":{"domain":[0,1],"range":[0,1]}}}},
{"data":{"name":"fRules"},"mark":{"type":"rule","color":"#222","strokeWidth":1.4},"encoding":{"x":{"field":"a","type":"quantitative","axis":null},"x2":{"field":"b"},"y":{"field":"y","type":"quantitative","axis":null}}},
{"data":{"name":"fCenter"},"mark":{"type":"text","fontSize":7.8},"encoding":{"x":{"field":"x","type":"quantitative","axis":null},"y":{"field":"y","type":"quantitative","axis":null},"text":{"field":"t"}}},
{"data":{"name":"fLeft"},"mark":{"type":"text","align":"left","fontSize":7.8},"encoding":{"x":{"field":"x","type":"quantitative","axis":null},"y":{"field":"y","type":"quantitative","axis":null},"text":{"field":"t"}}},
{"data":{"name":"fRot"},"mark":{"type":"text","align":"left","angle":-45,"fontSize":10},"encoding":{"x":{"field":"x","type":"quantitative","axis":null},"y":{"field":"y","type":"quantitative","axis":null},"text":{"field":"t"}}},
{"data":{"name":"fMw"},"mark":{"type":"text","align":"left","angle":-45,"fontSize":7},"encoding":{"x":{"field":"x","type":"quantitative","axis":null},"y":{"field":"y","type":"quantitative","axis":null},"text":{"field":"t"}}}
]},
{"data":{"name":"panels"},"mark":{"type":"text","fontWeight":"bold","fontSize":12,"color":"#111"},"encoding":{"x":{"field":"fx","type":"quantitative","axis":null,"scale":{"domain":[0,1],"range":[0,698],"nice":false}},"y":{"field":"fy","type":"quantitative","axis":null,"scale":{"domain":[0,1],"range":[0,873],"nice":false}},"text":{"field":"t"}}}
]}
